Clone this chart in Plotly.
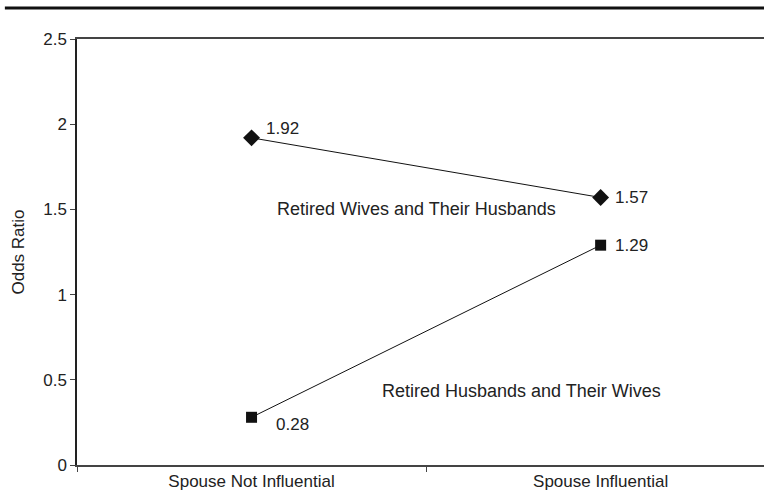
import plotly.graph_objects as go

categories = ["Spouse Not Influential", "Spouse Influential"]
wives_values = [1.92, 1.57]
husbands_values = [0.28, 1.29]
wives_labels = ["1.92", "1.57"]
husbands_labels = ["0.28", "1.29"]
y_ticks = [0, 0.5, 1, 1.5, 2, 2.5]
y_ticktext = ["0", "0.5", "1", "1.5", "2", "2.5"]

font = "Liberation Sans, Arial, sans-serif"
fs = 17
fig = go.Figure()
fig.add_trace(go.Scatter(
    x=categories, y=wives_values, mode="lines+markers",
    line=dict(color="#111", width=1),
    marker=dict(symbol="diamond", size=13, color="#111"),
    showlegend=False, cliponaxis=False))
fig.add_trace(go.Scatter(
    x=categories, y=husbands_values, mode="lines+markers",
    line=dict(color="#111", width=1),
    marker=dict(symbol="square", size=11, color="#111"),
    showlegend=False, cliponaxis=False))

# data labels
label_offsets_w = [(12, 9), (12, 0)]
label_offsets_h = [(22, -7), (12, 0)]
for i, c in enumerate(categories):
    for vals, labs, offs in ((wives_values, wives_labels, label_offsets_w),
                             (husbands_values, husbands_labels, label_offsets_h)):
        fig.add_annotation(x=c, y=vals[i], xref="x", yref="y", text=labs[i],
                           showarrow=False, xanchor="left", yanchor="middle",
                           xshift=offs[i][0], yshift=offs[i][1],
                           font=dict(family=font, size=fs, color="#222"))

fig.add_annotation(x=0.5, y=1.5, xref="x", yref="y", text="Retired Wives and Their Husbands",
                   showarrow=False, font=dict(family=font, size=18, color="#222"), xshift=-10)
fig.add_annotation(x=0.8, y=0.435, xref="x", yref="y", text="Retired Husbands and Their Wives",
                   showarrow=False, font=dict(family=font, size=18, color="#222"), xshift=-9)

fig.add_shape(type="line", xref="paper", yref="paper", x0=-0.105, x1=1.0, y0=1.0728, y1=1.0728,
              line=dict(color="#111", width=3))

fig.update_layout(
    width=764, height=503,
    margin=dict(l=77, r=0, t=39, b=38),
    paper_bgcolor="white", plot_bgcolor="white",
    font=dict(family=font, size=fs, color="#222"),
    xaxis=dict(type="category", range=[-0.5, 1.468], tickson="boundaries",
               ticks="outside", ticklen=5, tickcolor="#444",
               showline=True, linecolor="#444", linewidth=1.5, mirror=True,
               showgrid=False, zeroline=False,
               tickfont=dict(family=font, size=fs, color="#222")),
    yaxis=dict(range=[0, 2.5], tickvals=y_ticks, ticktext=y_ticktext,
               ticks="outside", ticklen=5, tickcolor="#444",
               showline=True, linecolor="#222", linewidth=1.5,
               showgrid=False, zeroline=False,
               title=dict(text="Odds Ratio", font=dict(family=font, size=fs, color="#222"), standoff=14),
               tickfont=dict(family=font, size=fs, color="#222")),
)
fig.write_html("out.html", config={"displayModeBar": False},
               post_script="document.body.style.margin='0';document.body.style.overflow='hidden';")
